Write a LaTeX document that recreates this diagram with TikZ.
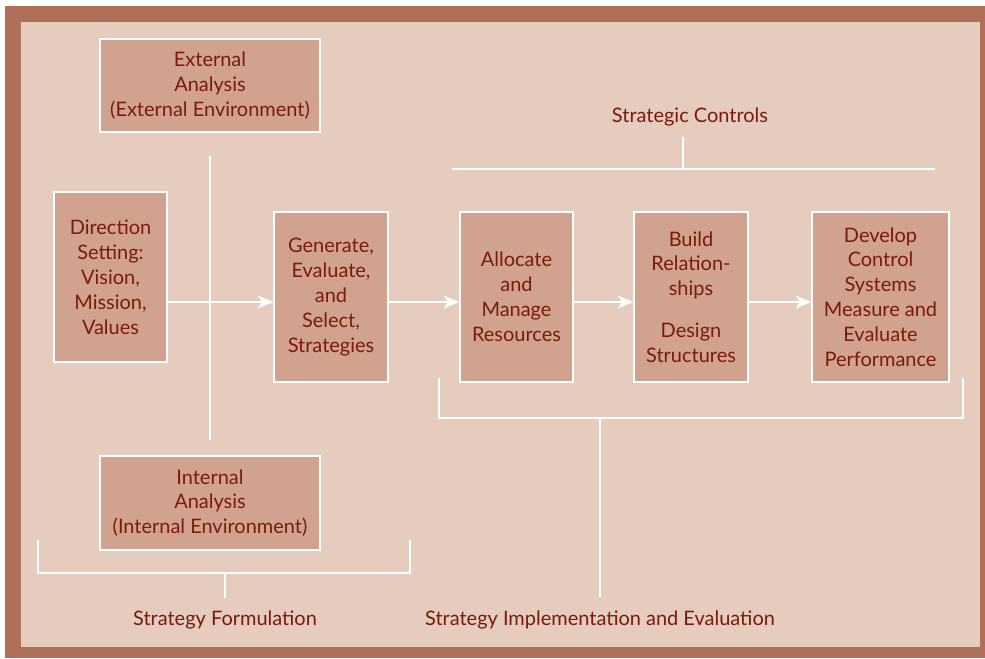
\documentclass[tikz,border=0pt]{standalone}
\usepackage{fontspec}
\setmainfont{Lato}
\usepackage{tikz}
\usetikzlibrary{arrows.meta,calc}

\definecolor{framebrown}{HTML}{B07058}
\definecolor{paperpink}{HTML}{E5CCBF}
\definecolor{boxpink}{HTML}{D1A38E}
\definecolor{inkred}{HTML}{7B1A0E}

\tikzset{
  stagebox/.style={draw=white, line width=1pt, fill=boxpink, text=inkred,
    align=center, inner sep=0pt, font=\fontsize{14.2}{17.7}\selectfont},
  caption/.style={text=inkred, font=\fontsize{14.2}{17.7}\selectfont},
  wire/.style={draw=white, line width=1.3pt},
  flow/.style={wire, -{Stealth[length=11pt,width=9pt,inset=3pt]}}
}

\begin{document}
\begin{tikzpicture}
    \useasboundingbox (0,0) rectangle (24.625,-16.45);
    % frame and paper
    \fill[framebrown] (0.125,-0.15) rectangle (24.625,-16.45);
    \fill[paperpink] (0.525,-0.55) rectangle (24.5,-16.175);

    \coordinate (arr) at (0,-7.55);

    % formulation side
    \node[stagebox, minimum width=5.5cm, minimum height=2.325cm] (ext) at (5.25,-2.1375)
        {External\\Analysis\\(External Environment)};
    \node[stagebox, minimum width=2.825cm, minimum height=4.25cm] (dir) at (2.7625,-6.925)
        {Direction\\Setting:\\Vision,\\Mission,\\Values};
    \node[stagebox, minimum width=2.85cm, minimum height=4.25cm] (gen) at (8.275,-7.425)
        {Generate,\\Evaluate,\\and\\Select,\\Strategies};
    \node[stagebox, minimum width=5.5cm, minimum height=2.35cm] (int) at (5.25,-12.575)
        {Internal\\Analysis\\(Internal Environment)};

    % implementation side
    \node[stagebox, minimum width=2.825cm, minimum height=4.25cm] (alloc) at (12.9125,-7.425)
        {Allocate\\and\\Manage\\Resources};
    \node[stagebox, minimum width=2.85cm, minimum height=4.25cm] (build) at (17.275,-7.425)
        {Build\\Relation-\\ships\\[12pt]Design\\Structures};
    \node[stagebox, minimum width=3.425cm, minimum height=4.25cm] (dev) at (22.0125,-7.425)
        {Develop\\Control\\Systems\\Measure and\\Evaluate\\Performance};

    \node[caption] (sc) at (17.25,-2.925) {Strategic Controls};
    \node[caption] (sf) at (5.625,-15.5) {Strategy Formulation};
    \node[caption] (sie) at (15,-15.5) {Strategy Implementation and Evaluation};

    % analysis axis
    \draw[wire] (5.25,-3.9) -- (5.25,-11);

    % arrows
    \draw[flow] (dir.east |- arr) -- (gen.west |- arr);
    \draw[flow] (gen.east |- arr) -- (alloc.west |- arr);
    \draw[flow] (alloc.east |- arr) -- (build.west |- arr);
    \draw[flow] (build.east |- arr) -- (dev.west |- arr);

    % brackets
    \draw[wire] (11.3,-4.225) -- (23.375,-4.225);
    \draw[wire] (17.075,-3.425) -- (17.075,-4.225);
    \draw[wire] (10.975,-9.45) -- (10.975,-10.45) -- (24.075,-10.45) -- (24.075,-9.45);
    \draw[wire] (15,-10.45) -- (15,-14.925);
    \draw[wire] (0.95,-13.5) -- (0.95,-14.325) -- (10.25,-14.325) -- (10.25,-13.5);
    \draw[wire] (5.625,-14.325) -- (5.625,-14.95);
\end{tikzpicture}
\end{document}
